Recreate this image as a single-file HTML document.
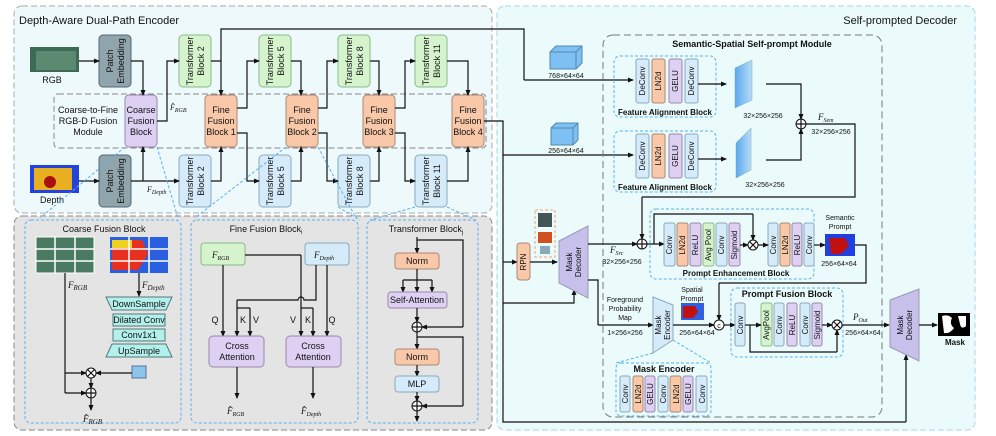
<!DOCTYPE html>
<html><head><meta charset="utf-8"><style>
html,body{margin:0;padding:0;background:#fff}
svg{display:block;font-family:"Liberation Sans",sans-serif}
text{fill:#111}
.s{font-size:8px}.m{font-size:9px}.b{font-weight:bold}
.ln{stroke:#111;stroke-width:1.2;fill:none}
.lna{stroke:#111;stroke-width:1.2;fill:none;marker-end:url(#a)}
.g{fill:#d5f3cc;stroke:#8b8}.bl{fill:#d6ebf9;stroke:#8ab}.o{fill:#f8c8a8;stroke:#a87}.p{fill:#ddd0f3;stroke:#98a}.pe{fill:#8fa5ab;stroke:#567}.cy{fill:#b2f0ec;stroke:#577}
.db{fill:none;stroke:#5ab0ee;stroke-dasharray:3 2;stroke-width:1}
.it{font-family:"Liberation Serif",serif;font-style:italic}
</style></head><body>
<svg width="996" height="436" viewBox="0 0 996 436" xmlns="http://www.w3.org/2000/svg">
<defs><marker id="a" markerWidth="6" markerHeight="6" refX="5" refY="3" orient="auto" markerUnits="userSpaceOnUse"><path d="M0,0.5 L6,3 L0,5.5z" fill="#111"/></marker>
<linearGradient id="sl" x1="0" x2="1"><stop offset="0" stop-color="#5aa8ee"/><stop offset="1" stop-color="#b8dcf6"/></linearGradient></defs>
<!-- panels -->
<rect x="14" y="6" width="478" height="207" rx="8" fill="#eef9fc" stroke="#aaa" stroke-dasharray="6 3"/>
<rect x="497" y="6" width="478" height="424" rx="8" fill="#ebfbfb" stroke="#a6d6ee" stroke-dasharray="6 3"/>
<rect x="14" y="216" width="478" height="214" rx="8" fill="#e4e4e4" stroke="#888" stroke-dasharray="6 3"/>
<text x="19" y="24" font-size="11">Depth-Aware Dual-Path Encoder</text>
<text x="957" y="24" font-size="11" text-anchor="end">Self-prompted Decoder</text>
<!-- encoder -->
<rect x="54" y="94" width="432" height="54" rx="4" fill="none" stroke="#888" stroke-dasharray="6 3"/>
<text class="m" text-anchor="middle"><tspan x="88" y="113">Coarse-to-Fine</tspan><tspan x="88" y="124">RGB-D Fusion</tspan><tspan x="88" y="135">Module</tspan></text>
<rect x="30" y="47" width="49" height="25" fill="#3d6a55"/><rect x="36" y="51" width="40" height="19" fill="#5c8a70"/>
<text x="52" y="83" class="m" text-anchor="middle">RGB</text>
<rect x="30" y="165" width="49" height="28" fill="#2244dd"/><rect x="34" y="168" width="38" height="22" fill="#e8b020"/><circle cx="50" cy="182" r="6" fill="#aa1010"/>
<text x="52" y="203" class="m" text-anchor="middle">Depth</text>
<rect x="99" y="35" width="32" height="52" rx="4" class="pe"/><text class="m" text-anchor="middle" transform="translate(115,61) rotate(-90)"><tspan x="0" y="-2">Patch</tspan><tspan x="0" y="9">Embedding</tspan></text>
<rect x="99" y="155" width="32" height="52" rx="4" class="pe"/><text class="m" text-anchor="middle" transform="translate(115,181) rotate(-90)"><tspan x="0" y="-2">Patch</tspan><tspan x="0" y="9">Embedding</tspan></text>
<rect x="125" y="95" width="32" height="52" rx="4" class="p"/><text class="m" text-anchor="middle"><tspan x="141" y="113">Coarse</tspan><tspan x="141" y="124">Fusion</tspan><tspan x="141" y="135">Block</tspan></text>
<g class="m" text-anchor="middle">
<rect x="179" y="35" width="32" height="52" rx="4" class="g"/><text transform="translate(195,61) rotate(-90)"><tspan x="0" y="-2">Transformer</tspan><tspan x="0" y="9">Block 2</tspan></text>
<rect x="259" y="35" width="32" height="52" rx="4" class="g"/><text transform="translate(275,61) rotate(-90)"><tspan x="0" y="-2">Transformer</tspan><tspan x="0" y="9">Block 5</tspan></text>
<rect x="338" y="35" width="32" height="52" rx="4" class="g"/><text transform="translate(354,61) rotate(-90)"><tspan x="0" y="-2">Transformer</tspan><tspan x="0" y="9">Block 8</tspan></text>
<rect x="415" y="35" width="32" height="52" rx="4" class="g"/><text transform="translate(431,61) rotate(-90)"><tspan x="0" y="-2">Transformer</tspan><tspan x="0" y="9">Block 11</tspan></text>
<rect x="179" y="155" width="32" height="52" rx="4" class="bl"/><text transform="translate(195,181) rotate(-90)"><tspan x="0" y="-2">Transformer</tspan><tspan x="0" y="9">Block 2</tspan></text>
<rect x="259" y="155" width="32" height="52" rx="4" class="bl"/><text transform="translate(275,181) rotate(-90)"><tspan x="0" y="-2">Transformer</tspan><tspan x="0" y="9">Block 5</tspan></text>
<rect x="338" y="155" width="32" height="52" rx="4" class="bl"/><text transform="translate(354,181) rotate(-90)"><tspan x="0" y="-2">Transformer</tspan><tspan x="0" y="9">Block 8</tspan></text>
<rect x="415" y="155" width="32" height="52" rx="4" class="bl"/><text transform="translate(431,181) rotate(-90)"><tspan x="0" y="-2">Transformer</tspan><tspan x="0" y="9">Block 11</tspan></text>
<rect x="205" y="95" width="32" height="52" rx="4" class="o"/><text><tspan x="221" y="113">Fine</tspan><tspan x="221" y="124">Fusion</tspan><tspan x="221" y="135">Block 1</tspan></text>
<rect x="286" y="95" width="32" height="52" rx="4" class="o"/><text><tspan x="302" y="113">Fine</tspan><tspan x="302" y="124">Fusion</tspan><tspan x="302" y="135">Block 2</tspan></text>
<rect x="363" y="95" width="32" height="52" rx="4" class="o"/><text><tspan x="379" y="113">Fine</tspan><tspan x="379" y="124">Fusion</tspan><tspan x="379" y="135">Block 3</tspan></text>
<rect x="452" y="95" width="32" height="52" rx="4" class="o"/><text><tspan x="468" y="113">Fine</tspan><tspan x="468" y="124">Fusion</tspan><tspan x="468" y="135">Block 4</tspan></text>
</g>
<path class="lna" d="M79,61H99"/><path class="lna" d="M79,181H99"/>
<path class="lna" d="M131,61H143V95"/>
<path class="lna" d="M131,181H179"/><path class="lna" d="M143,181V147"/>
<path class="lna" d="M157,121H167V61H179"/>
<text x="170" y="110" class="it s">F̂<tspan font-size="6" dy="2">RGB</tspan></text>
<text x="147" y="192" class="it s">F<tspan font-size="6" dy="2">Depth</tspan></text>
<path class="lna" d="M211,61H221V95"/><path class="lna" d="M211,181H221V147"/>
<path class="ln" d="M221,61V29H524V80"/><path class="lna" d="M524,80H633"/>
<path class="lna" d="M237,108H247V61H259"/><path class="lna" d="M237,133H247V181H259"/>
<path class="lna" d="M291,61H301V95"/><path class="lna" d="M291,181H301V147"/>
<path class="lna" d="M318,108H327V61H338"/><path class="lna" d="M318,133H327V181H338"/>
<path class="lna" d="M370,61H379V95"/><path class="lna" d="M370,181H379V147"/>
<path class="lna" d="M395,108H405V61H415"/><path class="lna" d="M395,133H405V181H415"/>
<path class="lna" d="M447,61H468V95"/><path class="lna" d="M447,181H468V147"/>
<path class="ln" d="M484,121H503V422H906"/><path class="lna" d="M906,422V355"/>
<path class="lna" d="M503,155H633"/>
<path class="lna" d="M503,262H517"/><path class="lna" d="M503,303H574V290"/>
<!-- blue guide lines -->
<g class="db"><path d="M125,147L40,218M157,147L178,218M286,147L195,218M318,147L356,218M338,207L360,220M415,207L370,220M447,207L476,220"/></g>
<!-- decoder -->
<rect x="603" y="35" width="279" height="382" rx="10" fill="none" stroke="#777" stroke-dasharray="7 4"/>
<text x="752" y="47" class="m b" text-anchor="middle">Semantic-Spatial Self-prompt Module</text>
<path d="M550,52l6,-6h26v17l-6,6h-26z" fill="#7cc0f4" stroke="#58a"/><path d="M550,52h26v17M576,52l6,-6" fill="none" stroke="#58a"/>
<text x="566" y="78" font-size="7" text-anchor="middle">768×64×64</text>
<path d="M551,128l5,-5h22v17l-5,5h-22z" fill="#7cc0f4" stroke="#58a"/><path d="M551,128h22v17M573,128l5,-5" fill="none" stroke="#58a"/>
<text x="566" y="153" font-size="7" text-anchor="middle">256×64×64</text>
<rect x="614" y="56" width="102" height="61" rx="6" class="db"/>
<rect x="614" y="131" width="102" height="61" rx="6" class="db"/>
<g class="s" text-anchor="middle">
<rect x="636" y="59" width="13" height="44" rx="2" class="bl"/><text transform="translate(645,81) rotate(-90)">DeConv</text>
<rect x="652" y="59" width="13" height="44" rx="2" class="o"/><text transform="translate(661,81) rotate(-90)">LN2d</text>
<rect x="669" y="59" width="13" height="44" rx="2" class="p"/><text transform="translate(678,81) rotate(-90)">GELU</text>
<rect x="685" y="59" width="13" height="44" rx="2" class="bl"/><text transform="translate(694,81) rotate(-90)">DeConv</text>
<rect x="636" y="134" width="13" height="44" rx="2" class="bl"/><text transform="translate(645,156) rotate(-90)">DeConv</text>
<rect x="652" y="134" width="13" height="44" rx="2" class="o"/><text transform="translate(661,156) rotate(-90)">LN2d</text>
<rect x="669" y="134" width="13" height="44" rx="2" class="p"/><text transform="translate(678,156) rotate(-90)">GELU</text>
<rect x="685" y="134" width="13" height="44" rx="2" class="bl"/><text transform="translate(694,156) rotate(-90)">DeConv</text>
</g>
<text x="665" y="115" class="s b" text-anchor="middle">Feature Alignment Block</text>
<text x="665" y="190" class="s b" text-anchor="middle">Feature Alignment Block</text>
<path class="lna" d="M698,84H726"/><path class="lna" d="M698,159H726"/>
<path d="M735,68l17,-8v40l-17,8z" fill="url(#sl)" stroke="#7ab" stroke-width=".5"/>
<path d="M736,143l15,-15v42l-15,8z" fill="url(#sl)" stroke="#7ab" stroke-width=".5"/>
<text x="763" y="118" font-size="7" text-anchor="middle">32×256×256</text>
<text x="765" y="187" font-size="7" text-anchor="middle">32×256×256</text>
<path class="lna" d="M766,84H801V119"/><path class="lna" d="M766,160H801V129"/>
<circle cx="801" cy="124" r="5" fill="#fff" stroke="#111"/><path class="ln" d="M796,124h10M801,119v10"/>
<text x="818" y="120" class="it m">F<tspan font-size="6" dy="2">Sem</tspan></text>
<text x="831" y="134" font-size="7" text-anchor="middle">32×256×256</text>
<path class="ln" d="M806,124H855V197H642"/><path class="lna" d="M642,197V239"/>
<!-- mask decoder 1, RPN -->
<rect x="535" y="210" width="20" height="47" fill="none" stroke="#f4a070" stroke-dasharray="3 2"/>
<rect x="538" y="213" width="14" height="14" fill="#455"/><rect x="538" y="232" width="14" height="11" fill="#d05020"/><rect x="540" y="246" width="10" height="8" fill="#8ab"/>
<rect x="517" y="243" width="13" height="37" rx="3" class="o"/><text class="s" text-anchor="middle" transform="translate(526,262) rotate(-90)">RPN</text>
<path class="lna" d="M530,262H557"/>
<path d="M559,241L588,226V298L559,283z" fill="#c6c0ea" stroke="#99b"/>
<text class="s" text-anchor="middle" transform="translate(574,262) rotate(-90)"><tspan x="0" y="-2">Mask</tspan><tspan x="0" y="7">Decoder</tspan></text>
<path class="lna" d="M588,244H637"/>
<text x="610" y="253" class="it m">F<tspan font-size="6" dy="2">Src</tspan></text>
<text x="622" y="264" font-size="7" text-anchor="middle">32×256×256</text>
<circle cx="642" cy="244" r="5" fill="#fff" stroke="#111"/><path class="ln" d="M637,244h10M642,239v10"/>
<rect x="650" y="209" width="164" height="70" rx="6" class="db"/>
<path class="lna" d="M647,244H664"/>
<path class="ln" d="M654,244V214H753"/><path class="lna" d="M753,214V240"/>
<g class="s" text-anchor="middle">
<rect x="664" y="223" width="11" height="43" rx="2" class="bl"/><text transform="translate(672,245) rotate(-90)">Conv</text>
<rect x="677" y="223" width="11" height="43" rx="2" class="o"/><text transform="translate(685,245) rotate(-90)">LN2d</text>
<rect x="690" y="223" width="11" height="43" rx="2" class="p"/><text transform="translate(698,245) rotate(-90)">ReLU</text>
<rect x="703" y="223" width="11" height="43" rx="2" class="g"/><text transform="translate(711,245) rotate(-90)">Avg Pool</text>
<rect x="716" y="223" width="11" height="43" rx="2" class="bl"/><text transform="translate(724,245) rotate(-90)">Conv</text>
<rect x="729" y="223" width="11" height="43" rx="2" class="p"/><text transform="translate(737,245) rotate(-90)">Sigmoid</text>
<rect x="768" y="223" width="10" height="43" rx="2" class="bl"/><text transform="translate(776,245) rotate(-90)">Conv</text>
<rect x="780" y="223" width="10" height="43" rx="2" class="o"/><text transform="translate(788,245) rotate(-90)">LN2d</text>
<rect x="792" y="223" width="10" height="43" rx="2" class="p"/><text transform="translate(800,245) rotate(-90)">ReLU</text>
<rect x="804" y="223" width="10" height="43" rx="2" class="bl"/><text transform="translate(812,245) rotate(-90)">Conv</text>
</g>
<path class="lna" d="M740,245H748"/><circle cx="753" cy="245" r="5" fill="#fff" stroke="#111"/><path class="ln" d="M749.5,241.5l7,7M756.5,241.5l-7,7"/>
<path class="lna" d="M758,245H768"/><path class="lna" d="M814,245H825"/>
<text x="736" y="276" class="s b" text-anchor="middle">Prompt Enhancement Block</text>
<rect x="825" y="234" width="30" height="22" fill="#2040e0"/><path d="M829,238h16l4,8l-8,8h-10z" fill="#c01010"/>
<text x="840" y="220" font-size="7" text-anchor="middle">Semantic</text><text x="840" y="229" font-size="7" text-anchor="middle">Prompt</text>
<text x="839" y="266" font-size="7" text-anchor="middle">256×64×64</text>
<path class="ln" d="M855,245H866V283H719"/><path class="lna" d="M719,283V320"/>
<path class="ln" d="M588,280H598V325"/><path class="lna" d="M598,325H653"/>
<text font-size="7" text-anchor="middle"><tspan x="625" y="302">Foreground</tspan><tspan x="625" y="311">Probability</tspan><tspan x="625" y="320">Map</tspan></text>
<text x="625" y="335" font-size="7" text-anchor="middle">1×256×256</text>
<path d="M653,297L673,305V340L653,353z" fill="#d6ebf9" stroke="#8ab"/>
<text class="s" text-anchor="middle" transform="translate(663,325) rotate(-90)"><tspan x="0" y="-2">Mask</tspan><tspan x="0" y="7">Encoder</tspan></text>
<path class="lna" d="M673,325H714"/>
<rect x="681" y="303" width="23" height="17" fill="#3060e0"/><path d="M683,306h12l3,6l-5,6h-10z" fill="#c01010"/>
<text x="692" y="292" font-size="7" text-anchor="middle">Spatial</text><text x="692" y="301" font-size="7" text-anchor="middle">Prompt</text>
<text x="697" y="335" font-size="7" text-anchor="middle">256×64×64</text>
<circle cx="719" cy="325" r="5" fill="#fff" stroke="#111"/><text x="719" y="328" font-size="7" text-anchor="middle">c</text>
<rect x="731" y="288" width="112" height="69" rx="6" class="db"/>
<text x="787" y="297" class="m b" text-anchor="middle">Prompt Fusion Block</text>
<path class="lna" d="M724,325H735"/>
<g class="s" text-anchor="middle">
<rect x="735" y="303" width="10" height="43" rx="2" class="bl"/><text transform="translate(743,325) rotate(-90)">Conv</text>
<rect x="761" y="303" width="11" height="43" rx="2" class="g"/><text transform="translate(769,325) rotate(-90)">AvgPool</text>
<rect x="774" y="303" width="10" height="43" rx="2" class="bl"/><text transform="translate(782,325) rotate(-90)">Conv</text>
<rect x="787" y="303" width="10" height="43" rx="2" class="p"/><text transform="translate(795,325) rotate(-90)">ReLU</text>
<rect x="800" y="303" width="10" height="43" rx="2" class="bl"/><text transform="translate(808,325) rotate(-90)">Conv</text>
<rect x="812" y="303" width="10" height="43" rx="2" class="p"/><text transform="translate(820,325) rotate(-90)">Sigmoid</text>
</g>
<path class="lna" d="M745,325H761"/><path class="ln" d="M750,325V352H837"/><path class="lna" d="M837,352V330"/>
<path class="lna" d="M822,325H832"/><circle cx="837" cy="325" r="5" fill="#fff" stroke="#111"/><path class="ln" d="M833.5,321.5l7,7M840.5,321.5l-7,7"/>
<path class="lna" d="M842,325H889"/>
<text x="853" y="320" class="it m">P<tspan font-size="6" dy="2">Out</tspan></text>
<text x="863" y="335" font-size="7" text-anchor="middle">256×64×64</text>
<path d="M890,300L919,289V361L890,347z" fill="#c6c0ea" stroke="#99b"/>
<text class="s" text-anchor="middle" transform="translate(905,325) rotate(-90)"><tspan x="0" y="-2">Mask</tspan><tspan x="0" y="7">Decoder</tspan></text>
<path class="lna" d="M919,325H937"/>
<rect x="938" y="313" width="32" height="23" fill="#000"/><path d="M942,316q6,-2 10,2q-3,6 2,10q-4,6 -10,5z M958,316h8v10q-5,4 -6,-2z" fill="#fff"/>
<text x="955" y="345" class="s b" text-anchor="middle">Mask</text>
<rect x="616" y="363" width="95" height="53" rx="5" class="db"/>
<path class="db" d="M653,353L616,363M673,340L711,363"/>
<text x="664" y="372" class="m b" text-anchor="middle">Mask Encoder</text>
<g class="s" text-anchor="middle">
<rect x="620" y="376" width="10" height="36" rx="2" class="bl"/><text transform="translate(628,394) rotate(-90)">Conv</text>
<rect x="633" y="376" width="10" height="36" rx="2" class="o"/><text transform="translate(641,394) rotate(-90)">LN2d</text>
<rect x="645" y="376" width="10" height="36" rx="2" class="p"/><text transform="translate(653,394) rotate(-90)">GELU</text>
<rect x="658" y="376" width="10" height="36" rx="2" class="bl"/><text transform="translate(666,394) rotate(-90)">Conv</text>
<rect x="670" y="376" width="11" height="36" rx="2" class="o"/><text transform="translate(679,394) rotate(-90)">LN2d</text>
<rect x="683" y="376" width="10" height="36" rx="2" class="p"/><text transform="translate(691,394) rotate(-90)">GELU</text>
<rect x="696" y="376" width="11" height="36" rx="2" class="bl"/><text transform="translate(705,394) rotate(-90)">Conv</text>
</g>
<!-- bottom: coarse fusion -->
<rect x="25" y="220" width="156" height="203" rx="6" class="db"/>
<text x="104" y="232" class="m" text-anchor="middle">Coarse Fusion Block</text>
<rect x="36" y="237" width="58" height="36" fill="#4a7a62" stroke="#fff"/><path d="M36,249h58M36,261h58M55,237v36M75,237v36" stroke="#fff" stroke-width="1.5"/>
<rect x="110" y="237" width="58" height="36" fill="#2a60e0"/><path d="M112,240h30l6,14l-10,16h-26z" fill="#e83020"/><path d="M112,240h20v8h-20z" fill="#f0d020"/><path d="M110,249h58M110,261h58M129,237v36M149,237v36" stroke="#fff" stroke-width="1.5"/>
<text x="68" y="288" class="it m">F<tspan font-size="7" dy="2">RGB</tspan></text>
<text x="142" y="288" class="it m">F<tspan font-size="7" dy="2">Depth</tspan></text>
<path class="lna" d="M139,273V296"/>
<g class="m" text-anchor="middle">
<path d="M106,297H172L166,310H112z" class="cy"/><text x="139" y="307">DownSample</text>
<rect x="113" y="314" width="52" height="12" class="cy"/><text x="139" y="323">Dilated Conv</text>
<rect x="113" y="329" width="52" height="12" class="cy"/><text x="139" y="338">Conv1x1</text>
<path d="M112,344H166L172,357H106z" class="cy"/><text x="139" y="354">UpSample</text>
</g>
<rect x="132" y="366" width="14" height="12" fill="#8cc4ec" stroke="#579"/>
<path class="ln" d="M65,273V393"/><path class="lna" d="M65,373H86"/><path class="lna" d="M65,393H86"/>
<path class="lna" d="M132,373H96"/>
<circle cx="91" cy="373" r="5" fill="#fff" stroke="#111"/><path class="ln" d="M87.5,369.5l7,7M94.5,369.5l-7,7"/>
<path class="lna" d="M91,378V388"/>
<circle cx="91" cy="393" r="5" fill="#fff" stroke="#111"/><path class="ln" d="M86,393h10M91,388v10"/>
<path class="lna" d="M91,398V410"/>
<text x="83" y="422" class="it m">F̂<tspan font-size="7" dy="2">RGB</tspan></text>
<!-- fine fusion -->
<rect x="191" y="220" width="167" height="203" rx="6" class="db"/>
<text x="266" y="232" class="m" text-anchor="middle">Fine Fusion Block<tspan font-size="6" dy="2">i</tspan></text>
<rect x="201" y="243" width="44" height="22" rx="3" class="g"/><text x="212" y="258" class="it m">F<tspan font-size="6" dy="2">RGB</tspan></text>
<rect x="305" y="243" width="44" height="22" rx="3" class="bl"/><text x="314" y="258" class="it m">F<tspan font-size="6" dy="2">Depth</tspan></text>
<path class="lna" d="M223,265V336"/>
<path class="ln" d="M316,265V300H304a3,3 0 0 0 -6,0H237"/><path class="lna" d="M237,300V336"/><path class="ln" d="M237,308H250"/><path class="lna" d="M250,308V336"/>
<path class="ln" d="M245,255H301"/><path class="lna" d="M301,255V336"/><path class="ln" d="M301,308H313"/><path class="lna" d="M313,308V336"/>
<path class="lna" d="M327,265V336"/>
<g class="m" text-anchor="middle"><text x="215" y="323">Q</text><text x="243" y="323">K</text><text x="256" y="323">V</text><text x="293" y="323">V</text><text x="308" y="323">K</text><text x="332" y="323">Q</text></g>
<rect x="209" y="336" width="55" height="31" rx="4" class="p"/><text class="m" text-anchor="middle"><tspan x="237" y="349">Cross</tspan><tspan x="237" y="360">Attention</tspan></text>
<rect x="286" y="336" width="55" height="31" rx="4" class="p"/><text class="m" text-anchor="middle"><tspan x="313" y="349">Cross</tspan><tspan x="313" y="360">Attention</tspan></text>
<path class="lna" d="M237,367V398"/><path class="lna" d="M313,367V398"/>
<text x="227" y="414" class="it m">F̂<tspan font-size="6" dy="2">RGB</tspan></text>
<text x="301" y="414" class="it m">F̂<tspan font-size="6" dy="2">Depth</tspan></text>
<!-- transformer block -->
<rect x="367" y="220" width="111" height="203" rx="6" class="db"/>
<text x="426" y="232" class="m" text-anchor="middle">Transformer Block<tspan font-size="6" dy="2">j</tspan></text>
<path class="lna" d="M417,237V253"/><path class="ln" d="M417,240H463V327"/><path class="lna" d="M463,327H422"/>
<rect x="395" y="253" width="44" height="16" rx="3" class="o"/><text x="417" y="264" class="m" text-anchor="middle">Norm</text>
<path class="ln" d="M417,269V280M403,280H432"/><path class="lna" d="M403,280V292"/><path class="lna" d="M417,280V292"/><path class="lna" d="M432,280V292"/>
<rect x="388" y="292" width="59" height="16" rx="3" class="p"/><text x="417" y="303" class="m" text-anchor="middle">Self-Attention</text>
<path class="lna" d="M417,308V322"/>
<circle cx="417" cy="327" r="5" fill="#fff" stroke="#111"/><path class="ln" d="M412,327h10M417,322v10"/>
<path class="lna" d="M417,332V349"/><path class="ln" d="M417,337H463V406"/><path class="lna" d="M463,406H422"/>
<rect x="395" y="349" width="44" height="16" rx="3" class="o"/><text x="417" y="360" class="m" text-anchor="middle">Norm</text>
<path class="lna" d="M417,365V376"/>
<rect x="395" y="376" width="44" height="16" rx="3" class="bl"/><text x="417" y="387" class="m" text-anchor="middle">MLP</text>
<path class="lna" d="M417,392V401"/>
<circle cx="417" cy="406" r="5" fill="#fff" stroke="#111"/><path class="ln" d="M412,406h10M417,401v10"/>
<path class="lna" d="M417,411V421"/>
</svg>
</body></html>
